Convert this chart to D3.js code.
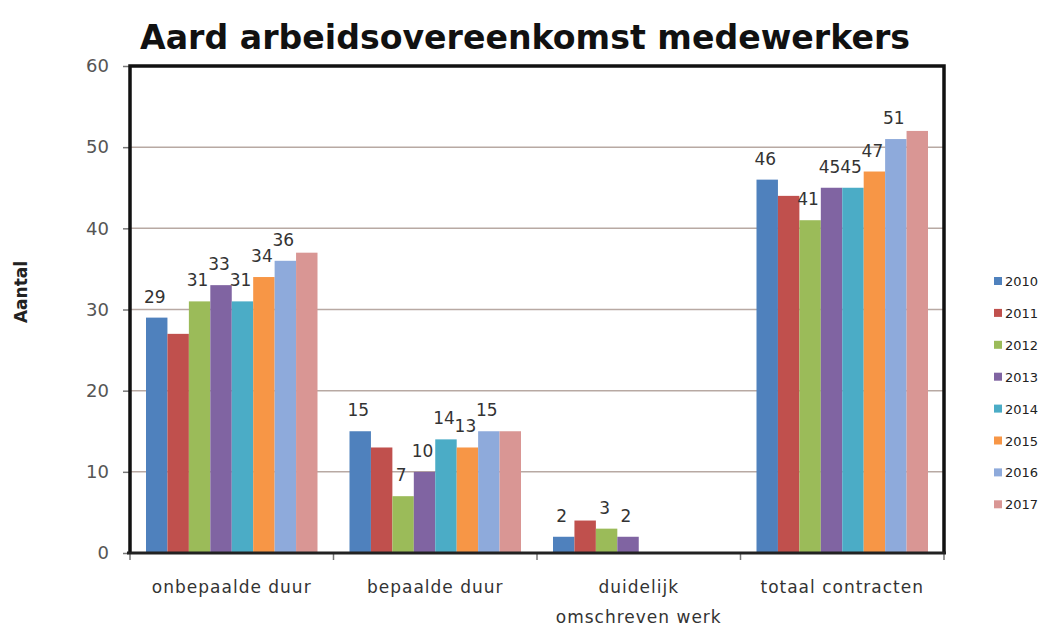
<!DOCTYPE html>
<html>
<head>
<meta charset="utf-8">
<script src="https://cdn.jsdelivr.net/npm/d3@7/dist/d3.min.js"></script>
<style>
  body { margin: 0; background: #fff; }
  text { font-family: "DejaVu Sans", sans-serif; }
</style>
</head>
<body>
<div id="chart"></div>
<script>
// data
const categories = ['onbepaalde duur', 'bepaalde duur', 'duidelijk\nomschreven werk', 'totaal contracten'];
const years = ['2010', '2011', '2012', '2013', '2014', '2015', '2016', '2017'];
const v2010 = [29, 15, 2, 46];
const v2011 = [27, 13, 4, 44];
const v2012 = [31, 7, 3, 41];
const v2013 = [33, 10, 2, 45];
const v2014 = [31, 14, 0, 45];
const v2015 = [34, 13, 0, 47];
const v2016 = [36, 15, 0, 51];
const v2017 = [37, 15, 0, 52];
const yTicks = [0, 10, 20, 30, 40, 50, 60];
// years that carry a value label in the original
const labeledYears = ['2010', '2012', '2013', '2014', '2015', '2016'];
const colors = ['#4f81bd', '#c0504d', '#9bbb59', '#8064a2', '#4bacc6', '#f79646', '#8eaadb', '#d99694'];

const series = [v2010, v2011, v2012, v2013, v2014, v2015, v2016, v2017];

const width = 1049, height = 630;
const plotL = 130, plotR = 944, plotT = 66, plotB = 553;

const svg = d3.select('#chart').append('svg')
    .attr('width', width)
    .attr('height', height);

const x0 = d3.scaleBand()
    .domain(categories)
    .range([plotL, plotR])
    .padding(0);

const x1 = d3.scaleBand()
    .domain(years)
    .range([16, x0.bandwidth() - 16])
    .padding(0);

const y = d3.scaleLinear()
    .domain([0, 60])
    .range([plotB, plotT]);

const color = d3.scaleOrdinal().domain(years).range(colors);

// gridlines
svg.append('g')
  .selectAll('line')
  .data(yTicks.filter(d => d > 0 && d < 60))
  .enter().append('line')
    .attr('x1', plotL).attr('x2', plotR)
    .attr('y1', d => y(d)).attr('y2', d => y(d))
    .attr('stroke', '#b8a9a3')
    .attr('stroke-width', 1.5);

// bars
const groups = svg.append('g')
  .selectAll('g')
  .data(years)
  .enter().append('g')
    .attr('fill', d => color(d));

groups.selectAll('rect')
  .data((yr, i) => categories.map((c, j) => ({ cat: c, year: yr, value: series[i][j] })))
  .enter().append('rect')
    .attr('x', d => x0(d.cat) + x1(d.year))
    .attr('width', x1.bandwidth())
    .attr('y', d => y(d.value))
    .attr('height', d => y(0) - y(d.value));

// value labels
const labelData = [];
years.forEach((yr, i) => {
  if (labeledYears.indexOf(yr) < 0) return;
  categories.forEach((c, j) => {
    if (series[i][j] > 0) labelData.push({ cat: c, year: yr, value: series[i][j] });
  });
});

svg.append('g')
  .selectAll('text')
  .data(labelData)
  .enter().append('text')
    .attr('x', d => x0(d.cat) + x1(d.year) + x1.bandwidth() / 2 - 2)
    .attr('y', d => y(d.value) - 15)
    .attr('text-anchor', 'middle')
    .attr('font-size', 17)
    .attr('fill', '#333')
    .text(d => d.value);

// y axis
const yAxis = d3.axisLeft(y)
    .tickValues(yTicks)
    .tickSize(7)
    .tickPadding(14);

const gy = svg.append('g')
    .attr('transform', 'translate(' + plotL + ',0)')
    .call(yAxis);
gy.select('.domain').remove();
gy.selectAll('.tick line').attr('stroke', '#777').attr('stroke-width', 1.5);
gy.selectAll('.tick text')
    .attr('font-size', 18)
    .attr('font-family', 'DejaVu Sans')
    .attr('fill', '#555');

// x axis ticks at category boundaries
svg.append('g')
  .selectAll('line')
  .data(categories.concat(['end']))
  .enter().append('line')
    .attr('x1', (d, i) => plotL + i * x0.step())
    .attr('x2', (d, i) => plotL + i * x0.step())
    .attr('y1', plotB)
    .attr('y2', plotB + 7)
    .attr('stroke', '#777')
    .attr('stroke-width', 1.5);

// category labels
const catText = svg.append('g')
  .selectAll('text')
  .data(categories)
  .enter().append('text')
    .attr('x', d => x0(d) + x0.bandwidth() / 2)
    .attr('y', 593)
    .attr('text-anchor', 'middle')
    .attr('font-size', 17)
    .attr('letter-spacing', 1)
    .attr('fill', '#333');

catText.selectAll('tspan')
  .data(d => d.split('\n'))
  .enter().append('tspan')
    .attr('x', function () { return d3.select(this.parentNode).attr('x'); })
    .attr('dy', (d, i) => i === 0 ? 0 : 30)
    .text(d => d);

// frame
svg.append('path')
    .attr('d', 'M' + plotL + ',' + plotB + 'V' + plotT + 'H' + plotR + 'V' + plotB)
    .attr('fill', 'none')
    .attr('stroke', '#111')
    .attr('stroke-width', 3.5);

svg.append('line')
    .attr('x1', plotL - 3).attr('x2', plotR + 2)
    .attr('y1', plotB).attr('y2', plotB)
    .attr('stroke', '#222')
    .attr('stroke-width', 3);

// title
svg.append('text')
    .attr('x', 140)
    .attr('y', 49)
    .attr('font-size', 34)
    .attr('font-weight', 'bold')
    .attr('fill', '#111')
    .attr('textLength', 770)
    .attr('lengthAdjust', 'spacingAndGlyphs')
    .text('Aard arbeidsovereenkomst medewerkers');

// y axis title
svg.append('text')
    .attr('transform', 'translate(27,292) rotate(-90)')
    .attr('text-anchor', 'middle')
    .attr('font-size', 17)
    .attr('font-weight', 'bold')
    .attr('fill', '#222')
    .text('Aantal');

// legend
const legend = svg.append('g')
  .selectAll('g')
  .data(years)
  .enter().append('g')
    .attr('transform', (d, i) => 'translate(994,' + (281 + i * 31.9) + ')');

legend.append('rect')
    .attr('x', 0).attr('y', -4)
    .attr('width', 8).attr('height', 8)
    .attr('fill', d => color(d));

legend.append('text')
    .attr('x', 11)
    .attr('y', 5)
    .attr('font-size', 13)
    .attr('fill', '#222')
    .text(d => d);
</script>
</body>
</html>
